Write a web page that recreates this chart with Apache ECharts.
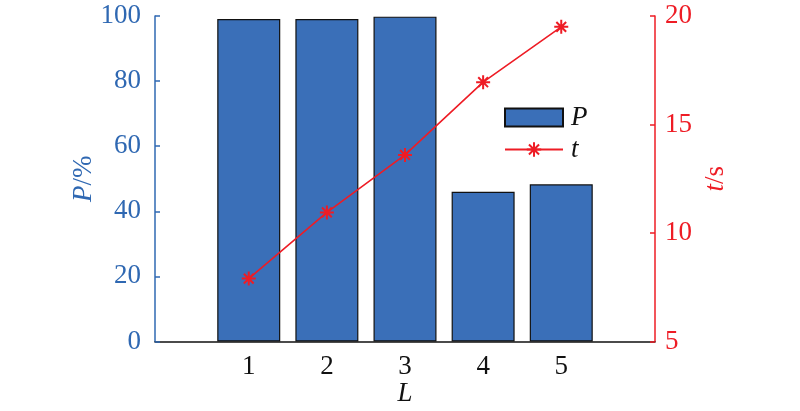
<!DOCTYPE html>
<html>
<head>
<meta charset="utf-8">
<script src="https://cdn.jsdelivr.net/npm/echarts@6/dist/echarts.min.js"></script>
<style>html,body{margin:0;padding:0;background:#fff;overflow:hidden;}#c{width:800px;height:411px;}</style>
</head>
<body>
<div id="c"></div>
<script>
const categories = [1, 2, 3, 4, 5];
const pValues = [99.1, 99.1, 99.8, 46.0, 48.3];
const tValues = [7.9, 10.95, 13.6, 16.95, 19.5];
const leftTicks = [0, 20, 40, 60, 80, 100];
const rightTicks = [5, 10, 15, 20];

const BLUE = '#3A6FB8';
const BLUE_TXT = '#2F68B2';
const RED = '#EE1C25';
const FONT = 'Liberation Serif';

const chart = echarts.init(document.getElementById('c'));
const star = 'path://M0,-6L0,6M-6,0L6,0M-4.2,-4.2L4.2,4.2M-4.2,4.2L4.2,-4.2';

chart.setOption({
  animation: false,
  backgroundColor: '#fff',
  textStyle: { fontFamily: FONT },
  grid: { left: 155, right: 145, top: 16, bottom: 69.5, containLabel: false, outerBoundsMode: 'none' },
  legend: {
    orient: 'vertical',
    left: 499, top: 99,
    itemWidth: 58, itemHeight: 18, itemGap: 5,
    textStyle: { fontFamily: FONT, fontStyle: 'italic', fontSize: 27, lineHeight: 22, color: '#111', padding: [0, 0, 0, 3] },
    data: [{ name: 'P', icon: 'rect' }, { name: 't' }]
  },
  xAxis: {
    type: 'value', min: -0.2, max: 6.2,
    name: 'L', nameLocation: 'middle', nameGap: 39, nameMoveOverlap: false,
    nameTextStyle: { fontFamily: FONT, fontStyle: 'italic', fontSize: 27, color: '#111' },
    axisLine: { show: true, onZero: false, lineStyle: { color: '#111', width: 1.5 } },
    axisTick: { show: false },
    splitLine: { show: false },
    axisLabel: {
      fontFamily: FONT, fontSize: 27, color: '#111', margin: 12,
      showMinLabel: false, showMaxLabel: false,
      formatter: v => (categories.indexOf(v) >= 0 ? String(v) : '')
    }
  },
  yAxis: [
    {
      type: 'value', min: 0, max: 100, interval: 20, position: 'left',
      name: '{i|P}/%', nameLocation: 'middle', nameGap: 58, nameRotate: 90, nameMoveOverlap: false,
      nameTextStyle: { fontFamily: FONT, fontSize: 27, color: BLUE_TXT,
        rich: { i: { fontFamily: FONT, fontStyle: 'italic', fontSize: 27, color: BLUE_TXT } } },
      axisLine: { show: true, onZero: false, lineStyle: { color: BLUE_TXT, width: 1.5 } },
      axisTick: { show: true, inside: true, length: 5, lineStyle: { color: BLUE_TXT, width: 1.5 } },
      splitLine: { show: false },
      axisLabel: { fontFamily: FONT, fontSize: 27, color: BLUE_TXT, margin: 14,
        formatter: v => (leftTicks.indexOf(v) >= 0 ? String(v) : '') }
    },
    {
      type: 'value', min: 5, max: 20, interval: 5, position: 'right',
      name: '{i|t}/s', nameLocation: 'middle', nameGap: 47, nameRotate: 90, nameMoveOverlap: false,
      nameTextStyle: { fontFamily: FONT, fontSize: 27, color: RED,
        rich: { i: { fontFamily: FONT, fontStyle: 'italic', fontSize: 27, color: RED } } },
      axisLine: { show: true, onZero: false, lineStyle: { color: RED, width: 1.5 } },
      axisTick: { show: true, inside: true, length: 5, lineStyle: { color: RED, width: 1.5 } },
      splitLine: { show: false },
      axisLabel: { fontFamily: FONT, fontSize: 27, color: RED, margin: 10,
        formatter: v => (rightTicks.indexOf(v) >= 0 ? String(v) : '') }
    }
  ],
  series: [
    {
      name: 'P', type: 'bar', yAxisIndex: 0, barWidth: 63,
      itemStyle: { color: BLUE, borderColor: '#111', borderWidth: 1.2 },
      data: categories.map((c, i) => [c, pValues[i]])
    },
    {
      name: 't', type: 'line', yAxisIndex: 1,
      symbol: star, symbolSize: 14, showAllSymbol: true,
      lineStyle: { color: RED, width: 1.6 },
      itemStyle: { color: RED, borderColor: RED, borderWidth: 2 },
      data: categories.map((c, i) => [c, tValues[i]])
    }
  ]
});
</script>
</body>
</html>
